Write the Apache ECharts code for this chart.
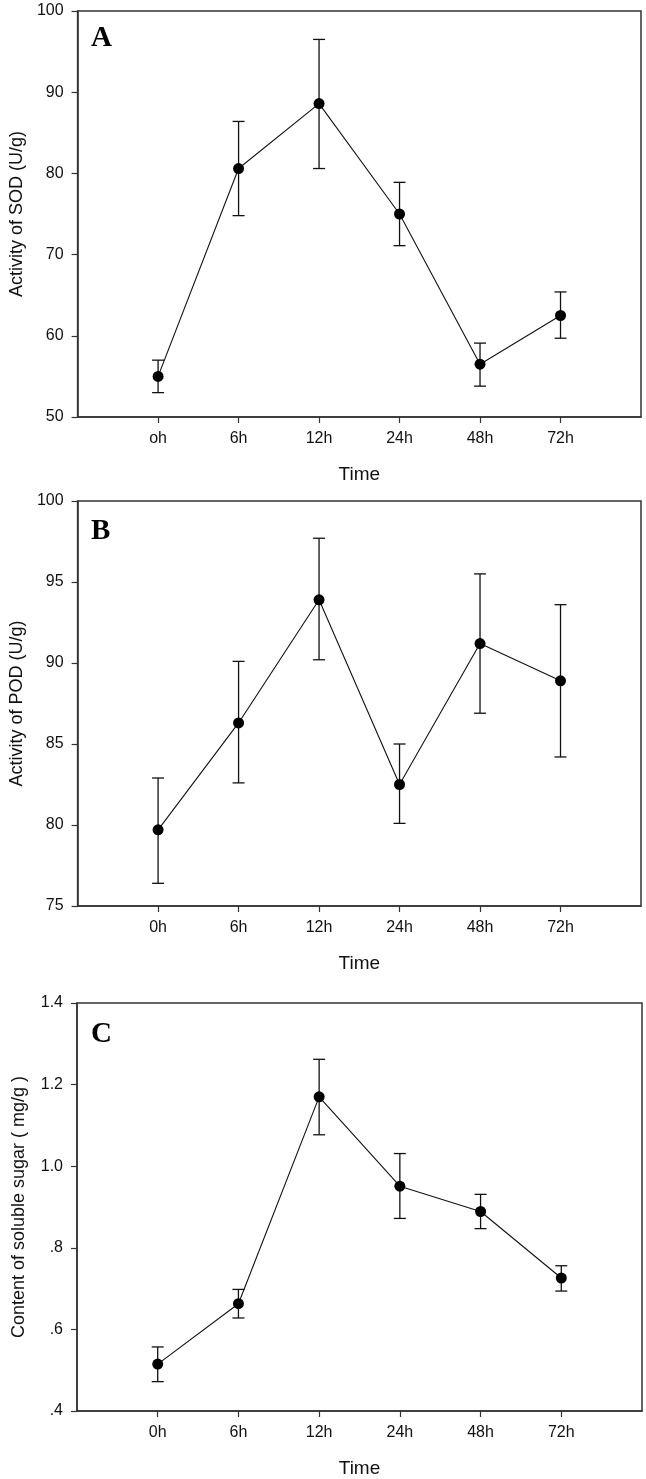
<!DOCTYPE html>
<html>
<head>
<meta charset="utf-8">
<script src="https://cdn.jsdelivr.net/npm/echarts@6/dist/echarts.min.js"></script>
<style>
html,body{margin:0;padding:0;background:#fff;}
#chart{width:646px;height:1479px;}
</style>
</head>
<body>
<div id="chart"></div>
<script>
// ---- data ----
const catsA = ['oh', '6h', '12h', '24h', '48h', '72h'];
const catsBC = ['0h', '6h', '12h', '24h', '48h', '72h'];

const sodMean = [55.0, 80.6, 88.6, 75.0, 56.5, 62.5];
const sodLow  = [53.0, 74.8, 80.6, 71.1, 53.8, 59.7];
const sodHigh = [57.0, 86.4, 96.5, 78.9, 59.1, 65.4];

const podMean = [79.7, 86.3, 93.9, 82.5, 91.2, 88.9];
const podLow  = [76.4, 82.6, 90.2, 80.1, 86.9, 84.2];
const podHigh = [82.9, 90.1, 97.7, 85.0, 95.5, 93.6];

const sugarMean = [0.515, 0.663, 1.170, 0.951, 0.889, 0.726];
const sugarLow  = [0.472, 0.628, 1.077, 0.872, 0.847, 0.694];
const sugarHigh = [0.557, 0.698, 1.262, 1.031, 0.931, 0.756];

const yTitles = ['Activity of SOD (U/g)', 'Activity of POD (U/g)', 'Content of soluble sugar ( mg/g )'];
const panelLetters = ['A', 'B', 'C'];
const xTitle = 'Time';

// ---- chart ----
const axisColor = '#333';
const textColor = '#111';
const font = 'Arial, "Liberation Sans", sans-serif';

const grids = [
  {left: 77, top: 11, width: 564, height: 406},
  {left: 77, top: 501, width: 564, height: 405},
  {left: 77, top: 1003, width: 565, height: 408}
];

const yRanges = [
  {min: 50, max: 100, interval: 10, fmt: v => String(v)},
  {min: 75, max: 100, interval: 5, fmt: v => String(v)},
  {min: 0.4, max: 1.4, interval: 0.2, fmt: v => { const s = (Math.round(v*10)/10).toFixed(1); return s.startsWith('0') ? s.slice(1) : s; }}
];

const catSets = [catsA, catsBC, catsBC];
const means = [sodMean, podMean, sugarMean];
const lows = [sodLow, podLow, sugarLow];
const highs = [sodHigh, podHigh, sugarHigh];

const idx = [0,1,2,3,4,5];

const option = {
  backgroundColor: '#fff',
  animation: false,
  grid: grids.map(g => Object.assign({show: true, borderColor: axisColor, borderWidth: 1.5, backgroundColor: '#fff'}, g)),
  xAxis: grids.map((g, k) => ({
    type: 'value', gridIndex: k, min: -1, max: 6, interval: 1,
    splitLine: {show: false},
    axisLine: {show: true, onZero: false, lineStyle: {color: axisColor, width: 1.5}},
    axisTick: {show: true, inside: false, length: 6, customValues: idx, lineStyle: {color: axisColor, width: 1.2}},
    axisLabel: {show: true, customValues: idx, margin: 14, color: textColor, fontSize: 16, fontFamily: font,
      formatter: v => catSets[k][Math.round(v)] || ''},
    name: xTitle, nameLocation: 'middle', nameGap: 48,
    nameTextStyle: {color: textColor, fontSize: 19, fontFamily: font}
  })),
  yAxis: grids.map((g, k) => ({
    type: 'value', gridIndex: k, min: yRanges[k].min, max: yRanges[k].max, interval: yRanges[k].interval,
    splitLine: {show: false},
    axisLine: {show: true, onZero: false, lineStyle: {color: axisColor, width: 1.5}},
    axisTick: {show: true, inside: false, length: 6, lineStyle: {color: axisColor, width: 1.2}},
    axisLabel: {margin: 14, color: textColor, fontSize: 16, fontFamily: font, formatter: yRanges[k].fmt},
    name: yTitles[k], nameLocation: 'middle', nameGap: 49,
    nameTextStyle: {color: textColor, fontSize: 18, fontFamily: font}
  })),
  graphic: panelLetters.map((L, k) => ({
    type: 'text', left: 91, top: [24, 517, 1020][k],
    style: {text: L, fill: '#000', font: 'bold 29px "Liberation Serif", "Times New Roman", serif'}
  })),
  series: []
};

for (let k = 0; k < 3; k++) {
  option.series.push({
    type: 'custom', xAxisIndex: k, yAxisIndex: k, silent: true, z: 3,
    data: idx.map(i => [i, lows[k][i], highs[k][i]]),
    renderItem: (params, api) => {
      const lo = api.coord([api.value(0), api.value(1)]);
      const hi = api.coord([api.value(0), api.value(2)]);
      const hw = 6;
      const st = {stroke: '#111', lineWidth: 1.3};
      return {type: 'group', children: [
        {type: 'line', shape: {x1: lo[0], y1: lo[1], x2: hi[0], y2: hi[1]}, style: st},
        {type: 'line', shape: {x1: lo[0]-hw, y1: lo[1], x2: lo[0]+hw, y2: lo[1]}, style: st},
        {type: 'line', shape: {x1: hi[0]-hw, y1: hi[1], x2: hi[0]+hw, y2: hi[1]}, style: st}
      ]};
    }
  });
  option.series.push({
    type: 'line', xAxisIndex: k, yAxisIndex: k, z: 4,
    data: idx.map(i => [i, means[k][i]]),
    symbol: 'circle', symbolSize: 11,
    itemStyle: {color: '#000'},
    lineStyle: {color: '#111', width: 1.1}
  });
}

const chart = echarts.init(document.getElementById('chart'), null, {renderer: 'canvas'});
chart.setOption(option);
</script>
</body>
</html>
